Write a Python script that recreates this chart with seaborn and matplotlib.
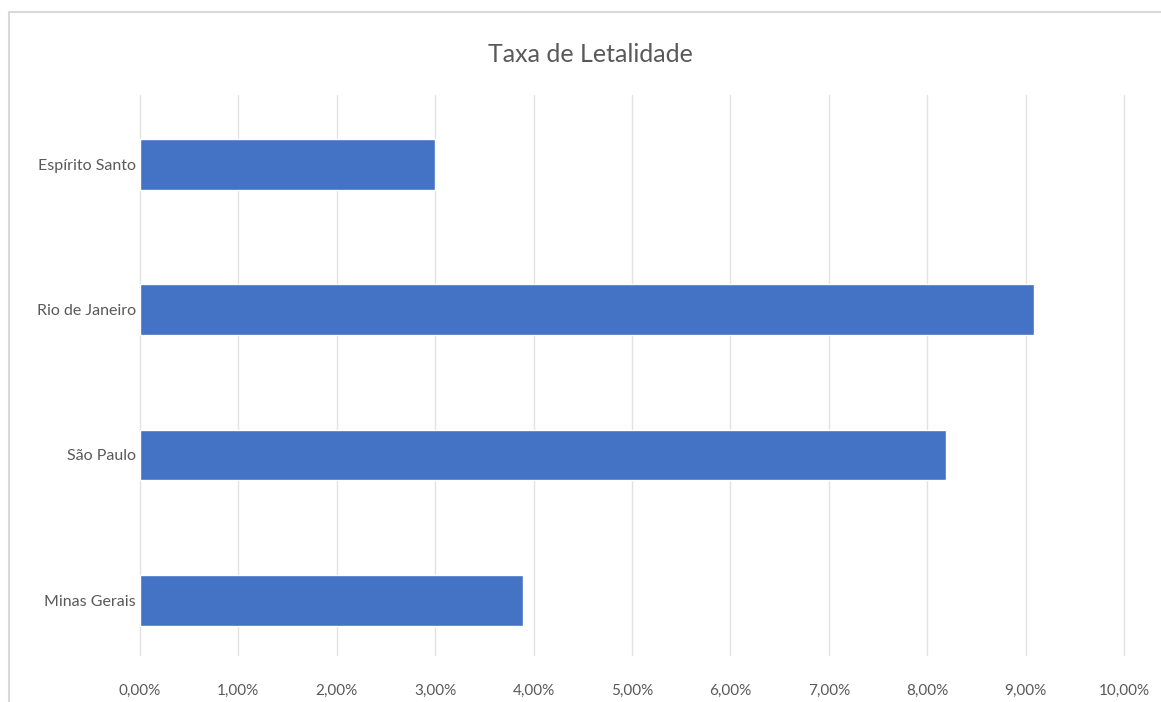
import matplotlib
matplotlib.use("Agg")
import matplotlib.pyplot as plt
from matplotlib.lines import Line2D
from matplotlib.ticker import FuncFormatter
import seaborn as sns
import pandas as pd

# Lethality rate by state (%)
estados = ["Espírito Santo", "Rio de Janeiro", "São Paulo", "Minas Gerais"]
taxa = [3.00, 9.09, 8.19, 3.89]
ticks_x = [0, 1, 2, 3, 4, 5, 6, 7, 8, 9, 10]

df = pd.DataFrame({"estado": estados, "taxa": taxa})

sns.set_theme(style="white")
plt.rcParams["font.family"] = ["Lato", "DejaVu Sans"]

fig = plt.figure(figsize=(11.61, 7.02), dpi=100)
ax = fig.add_axes([140 / 1161, 47 / 702, 984 / 1161, 560 / 702])

sns.barplot(data=df, x="taxa", y="estado", order=estados, color="#4472C4",
            saturation=1, width=0.35, orient="h", ax=ax, zorder=3)

ax.set_xlim(0, 10)
ax.set_ylim(3.378, -0.479)
ax.set_xticks(ticks_x)
ax.xaxis.set_major_formatter(FuncFormatter(lambda v, p: f"{v:.2f}%".replace(".", ",")))
ax.grid(axis="x", color="#e2e2e2", linewidth=1.0, zorder=0)
ax.grid(axis="y", visible=False)
for gl in ax.get_xgridlines():
    gl.set_clip_on(False)
for s in ax.spines.values():
    s.set_visible(False)
ax.tick_params(axis="both", length=0, labelcolor="#595959")
ax.tick_params(axis="x", pad=21, labelsize=11)
ax.tick_params(axis="y", pad=3, labelsize=11.5)
ax.set_xlabel("")
ax.set_ylabel("")

fig.text(590 / 1161, 1 - 55 / 702, "Taxa de Letalidade", ha="center", va="center",
         fontsize=18, color="#595959")

# Chart frame (top and left edges)
fig.add_artist(Line2D([9 / 1161, 1.0], [1 - 12 / 702, 1 - 12 / 702],
                      transform=fig.transFigure, color="#d9d9d9", linewidth=1.5))
fig.add_artist(Line2D([9 / 1161, 9 / 1161], [0, 1 - 12 / 702],
                      transform=fig.transFigure, color="#d9d9d9", linewidth=1.5))

fig.savefig("out.png", dpi=100, facecolor="white")
